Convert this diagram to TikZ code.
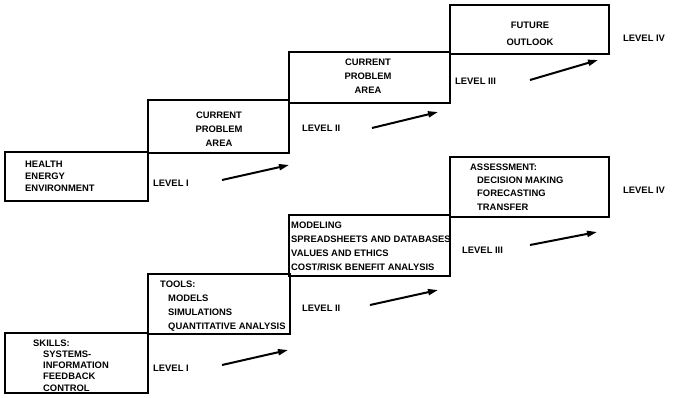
\documentclass[tikz,border=0pt]{standalone}
\usepackage{fontspec}
\setmainfont{Liberation Sans}
\usetikzlibrary{arrows.meta}
\tikzset{
  stepbox/.style={draw, line width=1.8pt, inner sep=0pt, outer sep=0pt, anchor=north west},
  txt/.style={font=\bfseries\fontsize{9.4}{#1}\selectfont, inner sep=0pt, align=left, anchor=west},
  ctxt/.style={font=\bfseries\fontsize{9.4}{#1}\selectfont, inner sep=0pt, align=center, anchor=center},
  lvl/.style={font=\bfseries\fontsize{9.4}{11}\selectfont, inner sep=0pt, anchor=west},
  rise/.style={line width=2pt, -{Triangle[length=10pt,width=6pt]}}
}
\begin{document}
\begin{tikzpicture}[x=1pt,y=-1pt]
\useasboundingbox (0,0) rectangle (685,397);

% upper staircase
\node[stepbox, minimum width=143pt, minimum height=49pt] (h1) at (5,152) {};
\node[stepbox, minimum width=141pt, minimum height=53pt] (h2) at (148,100) {};
\node[stepbox, minimum width=161pt, minimum height=51pt] (h3) at (289,52) {};
\node[stepbox, minimum width=159pt, minimum height=49pt] (h4) at (450,5) {};

\node[txt=12] (h1t) at (25,176) {HEALTH\\ENERGY\\ENVIRONMENT};
\node[ctxt=14] (h2t) at (219,129) {CURRENT\\PROBLEM\\AREA};
\node[ctxt=14] (h3t) at (368,76) {CURRENT\\PROBLEM\\AREA};
\node[ctxt=17] (h4t) at (530,33.5) {FUTURE\\OUTLOOK};

\node[lvl] (hl1) at (153,183) {LEVEL I};
\node[lvl] (hl2) at (302,128) {LEVEL II};
\node[lvl] (hl3) at (455,81) {LEVEL III};
\node[lvl] (hl4) at (623,38) {LEVEL IV};

\coordinate (ha1) at (222,180); \coordinate (hb1) at (289,165);
\coordinate (ha2) at (372,128); \coordinate (hb2) at (438,112);
\coordinate (ha3) at (530,80);  \coordinate (hb3) at (598,60);
\draw[rise] (ha1) -- (hb1);
\draw[rise] (ha2) -- (hb2);
\draw[rise] (ha3) -- (hb3);

% lower staircase
\node[stepbox, minimum width=143pt, minimum height=60pt] (s1) at (5,333) {};
\node[stepbox, minimum width=142pt, minimum height=60pt] (s2) at (148,274) {};
\node[stepbox, minimum width=161pt, minimum height=61pt] (s3) at (289,215) {};
\node[stepbox, minimum width=159pt, minimum height=60pt] (s4) at (450,157) {};

\node[txt=11.25] (s1t) at (33,365.5) {SKILLS:\\\hspace*{10pt}SYSTEMS-\\\hspace*{10pt}INFORMATION\\\hspace*{10pt}FEEDBACK\\\hspace*{10pt}CONTROL};
\node[txt=14] (s2t) at (160,306) {TOOLS:\\\hspace*{8pt}MODELS\\\hspace*{8pt}SIMULATIONS\\\hspace*{8pt}QUANTITATIVE ANALYSIS};
\node[txt=14] (s3t) at (291,246) {MODELING\\SPREADSHEETS AND DATABASES\\VALUES AND ETHICS\\COST/RISK BENEFIT ANALYSIS};
\node[txt=13.3] (s4t) at (470,187) {ASSESSMENT:\\\hspace*{7pt}DECISION MAKING\\\hspace*{7pt}FORECASTING\\\hspace*{7pt}TRANSFER};

\node[lvl] (sl1) at (153,368) {LEVEL I};
\node[lvl] (sl2) at (302,308) {LEVEL II};
\node[lvl] (sl3) at (462,250) {LEVEL III};
\node[lvl] (sl4) at (623,190) {LEVEL IV};

\coordinate (sa1) at (222,365); \coordinate (sb1) at (288,350);
\coordinate (sa2) at (370,305); \coordinate (sb2) at (438,290);
\coordinate (sa3) at (530,245); \coordinate (sb3) at (597,232);
\draw[rise] (sa1) -- (sb1);
\draw[rise] (sa2) -- (sb2);
\draw[rise] (sa3) -- (sb3);
\end{tikzpicture}
\end{document}
